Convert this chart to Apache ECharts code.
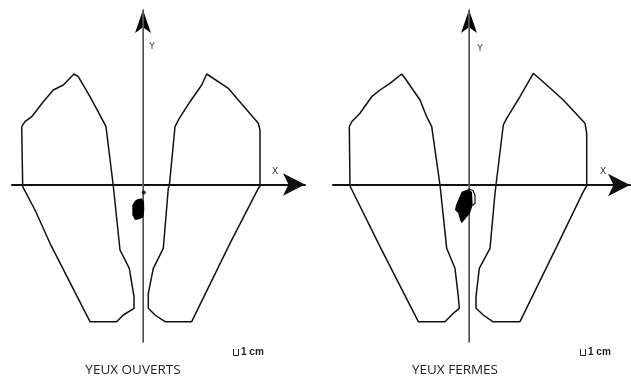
<!DOCTYPE html>
<html>
<head>
    <meta charset="utf-8">
    <title>Stabilométrie - yeux ouverts / yeux fermés</title>
    <script src="https://cdn.jsdelivr.net/npm/echarts@6/dist/echarts.min.js"></script>
    <style>
        html, body { margin: 0; padding: 0; background: #fff; }
        #main { width: 631px; height: 378px; }
    </style>
</head>
<body>
<div id="main"></div>
<script type="text/javascript">

    // coordonnées en cm, origine = croisement des axes X / Y
    // --- yeux ouverts ---
    var ouvPiedG = [[-12.13,5.78],[-11.8,6.28],[-11.13,6.78],[-9.97,8.28],[-8.97,9.45],[-7.97,9.95],[-6.9,11.05],
        [-6.47,10.78],[-5.3,8.78],[-4.13,6.62],[-3.7,5.78],[-2.97,-0.15],[-2.3,-6.55],[-1.37,-8.38],[-0.9,-11.22],
        [-0.9,-12.38],[-1.97,-13.05],[-2.63,-13.72],[-5.3,-13.72],[-9.3,-5.88],[-10.8,-2.55],[-12.03,-0.22],[-12.13,5.78]];
    var ouvPiedD = [[2.63,-0.15],[3.2,5.78],[3.63,6.62],[4.7,8.28],[5.87,9.95],[6.37,11.05],[8.53,9.62],[9.53,8.45],
        [11.53,6.12],[11.7,5.45],[11.7,-0.15],[11.53,-0.38],[8.7,-5.88],[4.87,-13.72],[2.2,-13.72],[1.2,-13.05],
        [0.53,-12.38],[0.53,-10.88],[1.03,-8.38],[2.03,-6.38],[2.53,-0.38],[2.63,-0.15]];
    var ouvTache = [[-0.57,-1.48],[-0.13,-1.38],[0.1,-1.72],[0.13,-2.55],[0.03,-3.28],[-0.37,-3.48],[-0.8,-3.55],
        [-1.07,-3.05],[-1.07,-2.05],[-0.8,-1.62]];
    var ouvPoint = [[0.08,-0.8]];

    // --- yeux fermés ---
    var ferPiedG = [[-11.97,5.83],[-11.73,6.33],[-10.9,7.17],[-9.73,8.83],[-8.9,9.5],[-7.9,10.17],[-6.73,11.1],
        [-6.4,10.67],[-4.9,8.5],[-4.23,6.83],[-3.73,5.83],[-2.9,0],[-2.23,-6.33],[-1.4,-8.33],[-1.07,-11.17],
        [-0.97,-12.33],[-1.57,-12.83],[-2.4,-13.67],[-5.07,-13.67],[-8.9,-6.17],[-11.9,-0.1],[-11.97,5.83]];
    var ferPiedD = [[2.7,0],[3.43,6.0],[3.77,6.67],[5.1,8.83],[6.43,11.17],[7.77,10.0],[9.43,8.5],[11.6,6.17],
        [11.77,5.17],[11.77,-0.1],[11.43,-0.67],[8.77,-6.17],[5.1,-13.67],[2.37,-13.67],[1.43,-13.0],[0.7,-12.33],
        [0.7,-11.17],[1.03,-8.33],[2.1,-6.33],[2.6,-0.83],[2.7,0]];
    var ferTache = [[-0.73,-0.67],[-0.07,-0.43],[0.3,-0.7],[0.37,-2.0],[0.1,-2.83],[-0.4,-3.43],[-0.73,-3.83],
        [-0.9,-3.5],[-1.07,-2.83],[-1.4,-2.5],[-1.3,-2.0],[-0.97,-1.23]];
    var ferTrace = [[-0.1,-0.4],[0.4,-0.55],[0.6,-1.0],[0.6,-1.83],[0.35,-2.05]];

    var titres = ['YEUX OUVERTS', 'YEUX FERMES'];
    var echelle = '1 cm';

    var myChart = echarts.init(document.getElementById('main'), null, {renderer: 'canvas'});

    function axeX(idx, min, max) {
        return {
            gridIndex: idx, type: 'value', min: min, max: max,
            axisLine: {onZero: true, symbol: ['none', 'arrow'], symbolSize: [17, 22],
                lineStyle: {color: '#111', width: 2}},
            axisTick: {show: false}, axisLabel: {show: false}, splitLine: {show: false}
        };
    }
    // axe Y noir avec la flèche
    function axeY(idx, min, max) {
        return {
            gridIndex: idx, type: 'value', min: min, max: max, z: 0,
            axisLine: {onZero: true, symbol: ['none', 'arrow'], symbolSize: [12, 23],
                lineStyle: {color: '#000', width: 1}},
            axisTick: {show: false}, axisLabel: {show: false}, splitLine: {show: false}
        };
    }
    // trait gris de l'axe Y, posé par dessus (décalé jusqu'au zéro)
    function axeYGris(idx, min, max, decal) {
        return {
            gridIndex: idx, type: 'value', min: min, max: max, z: 1, position: 'left', offset: decal,
            axisLine: {onZero: false, lineStyle: {color: '#6a6a6a', width: 1.5}},
            axisTick: {show: false}, axisLabel: {show: false}, splitLine: {show: false}
        };
    }
    function contour(idx, data) {
        return {
            type: 'line', xAxisIndex: idx, yAxisIndex: idx, data: data,
            showSymbol: false, silent: true,
            lineStyle: {color: '#111', width: 1.5}
        };
    }
    function tache(idx, data) {
        return {
            type: 'custom', xAxisIndex: idx, yAxisIndex: idx, data: [[0, 0]], silent: true,
            renderItem: function (params, api) {
                var pts = data.map(function (p) { return api.coord(p); });
                return {type: 'polygon', shape: {points: pts}, style: {fill: '#000'}};
            }
        };
    }

    var option = {
        animation: false,
        grid: [
            {left: 12, top: 10, width: 293, height: 332},
            {left: 333, top: 10, width: 297, height: 332}
        ],
        xAxis: [axeX(0, -13.1, 16.2), axeX(1, -13.6, 16.1)],
        yAxis: [
            axeY(0, -15.75, 17.45), axeY(1, -15.7, 17.5),
            axeYGris(0, -15.75, 17.45, -131), axeYGris(1, -15.7, 17.5, -136)
        ],
        series: [
            contour(0, ouvPiedG),
            contour(0, ouvPiedD),
            tache(0, ouvTache),
            {type: 'scatter', xAxisIndex: 0, yAxisIndex: 0, data: ouvPoint, symbolSize: 4,
                itemStyle: {color: '#000'}, silent: true},
            contour(1, ferPiedG),
            contour(1, ferPiedD),
            tache(1, ferTache),
            {type: 'line', xAxisIndex: 1, yAxisIndex: 1, data: ferTrace, showSymbol: false, silent: true,
                lineStyle: {color: '#111', width: 1.2}}
        ],
        graphic: [
            {type: 'text', x: 152, y: 47, style: {text: 'Y', font: '9px "DejaVu Sans"', fill: '#333', align: 'center', verticalAlign: 'middle'}},
            {type: 'text', x: 275, y: 172, style: {text: 'X', font: '9px "DejaVu Sans"', fill: '#333', align: 'center', verticalAlign: 'middle'}},
            {type: 'text', x: 480, y: 49, style: {text: 'Y', font: '9px "DejaVu Sans"', fill: '#333', align: 'center', verticalAlign: 'middle'}},
            {type: 'text', x: 603, y: 172, style: {text: 'X', font: '9px "DejaVu Sans"', fill: '#333', align: 'center', verticalAlign: 'middle'}},
            {type: 'text', x: 133, y: 370, style: {text: titres[0], font: '13.5px "Open Sans"', fill: '#222', align: 'center', verticalAlign: 'middle'}},
            {type: 'text', x: 455, y: 370, style: {text: titres[1], font: '13.5px "Open Sans"', fill: '#222', align: 'center', verticalAlign: 'middle'}},
            // échelle
            {type: 'polyline', shape: {points: [[233.5, 349], [233.5, 355.5], [238.5, 355.5], [238.5, 349]]}, style: {stroke: '#222', lineWidth: 1, fill: null}},
            {type: 'text', x: 241, y: 352, style: {text: echelle, font: 'bold 10px "Liberation Sans"', fill: '#222', align: 'left', verticalAlign: 'middle'}},
            {type: 'polyline', shape: {points: [[580.5, 349], [580.5, 355.5], [585.5, 355.5], [585.5, 349]]}, style: {stroke: '#222', lineWidth: 1, fill: null}},
            {type: 'text', x: 588, y: 352, style: {text: echelle, font: 'bold 10px "Liberation Sans"', fill: '#222', align: 'left', verticalAlign: 'middle'}}
        ]
    };

    myChart.setOption(option);

</script>
</body>
</html>
